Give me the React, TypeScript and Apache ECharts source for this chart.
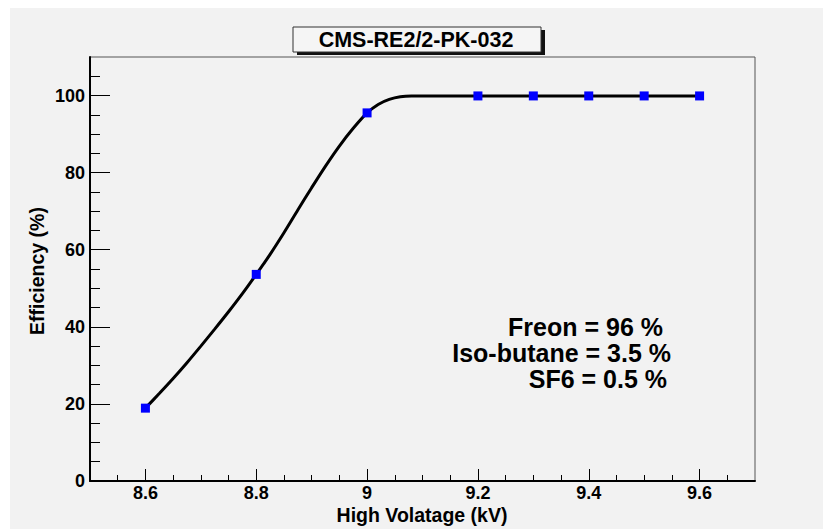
import React, { useEffect, useRef } from "react";
import * as echarts from "echarts";

// ---- data ----
const chartTitle = "CMS-RE2/2-PK-032";
const xTitle = "High Volatage (kV)";
const yTitle = "Efficiency (%)";
const gasLines = ["Freon = 96 %", "Iso-butane = 3.5 %", "SF6 = 0.5 %"];

const voltages = [8.6, 8.8, 9.0, 9.2, 9.3, 9.4, 9.5, 9.6];
const efficiencies = [18.9, 53.6, 95.5, 99.9, 99.9, 99.9, 99.9, 99.9];

// fitted curve
const fitX = [8.6, 8.625, 8.65, 8.675, 8.7, 8.725, 8.75, 8.775, 8.8, 8.825, 8.85, 8.875, 8.9, 8.925, 8.95, 8.975, 9.0, 9.02, 9.04, 9.06, 9.08, 9.1, 9.2, 9.4, 9.6];
const fitY = [18.9, 22.7, 26.6, 30.7, 35.0, 39.4, 43.9, 48.6, 53.6, 58.8, 64.4, 70.3, 76.1, 81.7, 86.9, 91.5, 95.5, 97.7, 99.0, 99.7, 99.9, 99.9, 99.9, 99.9, 99.9];

const xMajorTicks = [8.6, 8.8, 9.0, 9.2, 9.4, 9.6];
const xMinorTicks = [8.55, 8.65, 8.7, 8.75, 8.85, 8.9, 8.95, 9.05, 9.1, 9.15, 9.25, 9.3, 9.35, 9.45, 9.5, 9.55, 9.65];
const yMajorTicks = [0, 20, 40, 60, 80, 100];
const yMinorTicks = [5, 10, 15, 25, 30, 35, 45, 50, 55, 65, 70, 75, 85, 90, 95, 105];

const X_MIN = 8.5;
const X_MAX = 9.7;
const Y_MIN = 0;
const Y_MAX = 110;

const FONT = "'Liberation Sans', Arial, Helvetica, sans-serif";

export default function App() {
  const ref = useRef<HTMLDivElement>(null);

  useEffect(() => {
    if (!ref.current) return;
    const chart = echarts.init(ref.current, undefined, { renderer: "svg" });

    const labelStyle = {
      fontFamily: FONT,
      fontWeight: "bold" as const,
      fontSize: 18,
      color: "#000",
    };

    const option: any = {
      animation: false,
      backgroundColor: "#f2f2f2",
      grid: {
        left: 80,
        right: 68,
        top: 49,
        bottom: 48,
        show: true,
        borderColor: "#555",
        borderWidth: 1,
        backgroundColor: "transparent",
      },
      xAxis: [
        {
          type: "value",
          min: X_MIN,
          max: X_MAX,
          position: "bottom",
          axisLine: { show: true, onZero: false, lineStyle: { color: "#000", width: 2 } },
          axisTick: {
            show: true,
            inside: true,
            length: 12,
            customValues: xMajorTicks,
            lineStyle: { color: "#000", width: 1 },
          },
          axisLabel: {
            ...labelStyle,
            margin: 3,
            customValues: xMajorTicks,
            formatter: (v: number) => String(Math.round(v * 10) / 10),
          },
          splitLine: { show: false },
        },
        {
          type: "value",
          min: X_MIN,
          max: X_MAX,
          position: "bottom",
          axisLine: { show: false, onZero: false },
          axisTick: {
            show: true,
            inside: true,
            length: 6,
            customValues: xMinorTicks,
            lineStyle: { color: "#000", width: 1 },
          },
          axisLabel: { show: false },
          splitLine: { show: false },
        },
      ],
      yAxis: [
        {
          type: "value",
          min: Y_MIN,
          max: Y_MAX,
          position: "left",
          axisLine: { show: true, onZero: false, lineStyle: { color: "#000", width: 2 } },
          axisTick: {
            show: true,
            inside: true,
            length: 20,
            customValues: yMajorTicks,
            lineStyle: { color: "#000", width: 1 },
          },
          axisLabel: { ...labelStyle, margin: 5, customValues: yMajorTicks },
          splitLine: { show: false },
        },
        {
          type: "value",
          min: Y_MIN,
          max: Y_MAX,
          position: "left",
          axisLine: { show: false, onZero: false },
          axisTick: {
            show: true,
            inside: true,
            length: 10,
            customValues: yMinorTicks,
            lineStyle: { color: "#000", width: 1 },
          },
          axisLabel: { show: false },
          splitLine: { show: false },
        },
      ],
      series: [
        {
          name: "fit",
          type: "line",
          xAxisIndex: 0,
          yAxisIndex: 0,
          data: fitX.map((x, i) => [x, fitY[i]]),
          smooth: 0.3,
          showSymbol: false,
          symbol: "none",
          lineStyle: { color: "#000", width: 3 },
          z: 3,
        },
        {
          name: "data",
          type: "scatter",
          xAxisIndex: 0,
          yAxisIndex: 0,
          data: voltages.map((x, i) => [x, efficiencies[i]]),
          symbol: "rect",
          symbolSize: 9,
          itemStyle: { color: "#0000ff", opacity: 1 },
          z: 4,
        },
      ],
      graphic: [
        // title box shadow + box + text
        {
          type: "rect",
          shape: { x: 287, y: 22, width: 248, height: 25 },
          style: { fill: "#111" },
          z: 10,
        },
        {
          type: "rect",
          shape: { x: 283, y: 19, width: 248, height: 25 },
          style: { fill: "#f5f5f5", stroke: "#333", lineWidth: 1 },
          z: 11,
        },
        {
          type: "text",
          x: 406,
          y: 32,
          style: {
            text: chartTitle,
            textAlign: "center",
            textVerticalAlign: "middle",
            font: `bold 21.5px ${FONT}`,
            fill: "#000",
          },
          z: 12,
        },
        // axis titles
        {
          type: "text",
          x: 412,
          y: 507,
          style: {
            text: xTitle,
            textAlign: "center",
            textVerticalAlign: "middle",
            font: `bold 19.5px ${FONT}`,
            fill: "#000",
          },
        },
        {
          type: "text",
          x: 27,
          y: 263,
          rotation: Math.PI / 2,
          style: {
            text: yTitle,
            textAlign: "center",
            textVerticalAlign: "middle",
            font: `bold 19.5px ${FONT}`,
            fill: "#000",
          },
        },
        // gas mixture text
        {
          type: "text",
          x: 653,
          y: 319,
          style: {
            text: gasLines[0],
            textAlign: "right",
            textVerticalAlign: "middle",
            font: `bold 25px ${FONT}`,
            fill: "#000",
          },
        },
        {
          type: "text",
          x: 661,
          y: 345,
          style: {
            text: gasLines[1],
            textAlign: "right",
            textVerticalAlign: "middle",
            font: `bold 25px ${FONT}`,
            fill: "#000",
          },
        },
        {
          type: "text",
          x: 657,
          y: 371,
          style: {
            text: gasLines[2],
            textAlign: "right",
            textVerticalAlign: "middle",
            font: `bold 25px ${FONT}`,
            fill: "#000",
          },
        },
      ],
    };

    chart.setOption(option);
    return () => chart.dispose();
  }, []);

  return (
    <div
      ref={ref}
      style={{ position: "fixed", left: 10, top: 8, width: 813, height: 521 }}
    />
  );
}
